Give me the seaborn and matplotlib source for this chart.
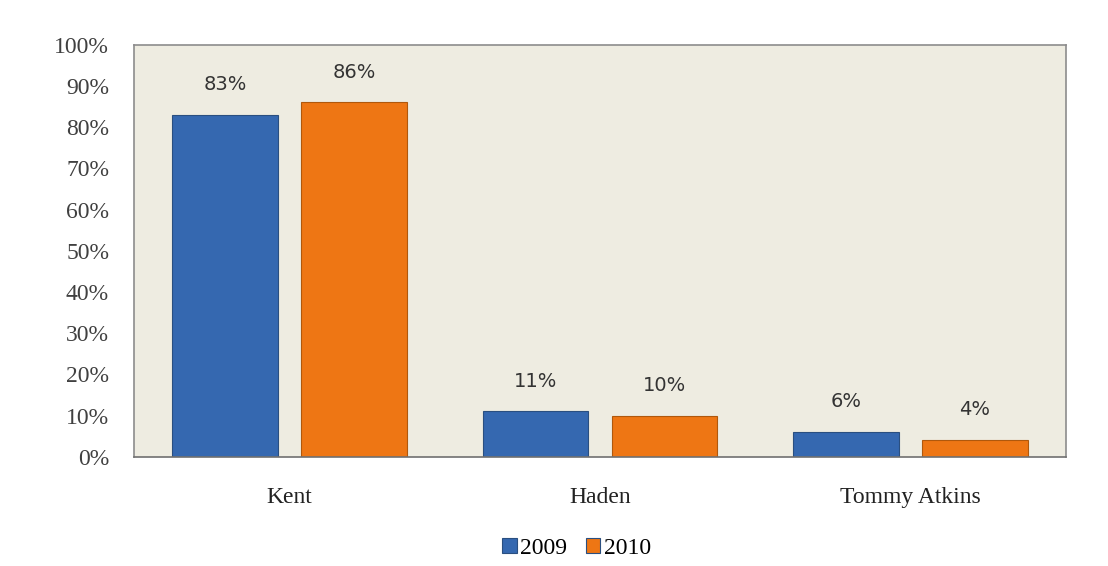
import seaborn as sns
import matplotlib.pyplot as plt
import pandas as pd

# values
varieties = ["Kent", "Haden", "Tommy Atkins"]
share_2009 = [83, 11, 6]
share_2010 = [86, 10, 4]
years = ["2009", "2010"]
yticks = list(range(0, 101, 10))

df = pd.DataFrame({
    "variety": varieties * 2,
    "share": share_2009 + share_2010,
    "year": [years[0]] * 3 + [years[1]] * 3,
})

fig = plt.figure(figsize=(11.08, 5.66), dpi=100)
ax = fig.add_axes([0.121, 0.193, 0.841, 0.728])
ax.set_facecolor("#EEECE1")

palette = {"2009": "#3568B0", "2010": "#EE7614"}
sns.barplot(data=df, x="variety", y="share", hue="year", palette=palette,
            width=0.83, gap=0.18, saturation=1, ax=ax,
            edgecolor="#2A4F80", linewidth=0.8)
for bar in ax.containers[1]:
    bar.set_edgecolor("#B0580C")

for cont in ax.containers:
    ax.bar_label(cont, labels=[f"{int(v)}%" for v in cont.datavalues],
                 padding=15, fontsize=14, color="#333333", family="DejaVu Sans")

ax.set_ylim(0, 100)
ax.set_yticks(yticks)
ax.set_yticklabels([f"{t}%" for t in yticks], family="Liberation Serif",
                   fontsize=17, color="#404040")
ax.set_xticklabels(varieties, family="Liberation Serif", fontsize=17, color="#222222")
ax.tick_params(axis="y", length=0, pad=18)
ax.tick_params(axis="x", length=0, pad=22)
ax.set_xlabel("")
ax.set_ylabel("")
ax.set_xlim(-0.5, 2.5)
for s in ax.spines.values():
    s.set_color("#8C8C8C")
    s.set_linewidth(1.2)
ax.spines["bottom"].set_color("#707070")

ax.legend(loc="center", bbox_to_anchor=(0.475, -0.222), ncol=2, frameon=False,
          prop={"family": "Liberation Serif", "size": 17}, handlelength=0.6,
          handleheight=0.6, handletextpad=0.15, columnspacing=0.8)

fig.savefig("out.png", dpi=100)
